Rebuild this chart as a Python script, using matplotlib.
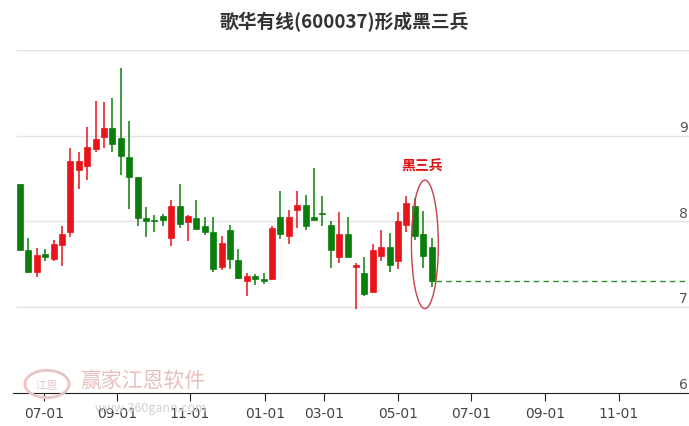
import matplotlib
matplotlib.use("Agg")
import matplotlib.pyplot as plt
from matplotlib.patches import Ellipse, Circle
import numpy as np

plt.rcParams['font.family'] = ['Noto Sans CJK SC', 'DejaVu Sans']

# weekly candles: open, high, low, close
opens = [8.43, 7.66, 7.41, 7.62, 7.56, 7.72, 7.87, 8.60, 8.65, 8.84,
         8.98, 9.09, 8.97, 8.75, 8.52, 8.04, 8.02, 8.06, 7.80, 8.18,
         7.99, 8.04, 7.94, 7.88, 7.47, 7.90, 7.55, 7.30, 7.36, 7.32,
         7.32, 8.05, 7.83, 8.13, 8.19, 8.05, 8.09, 7.96, 7.58, 7.85,
         7.47, 7.40, 7.17, 7.60, 7.70, 7.53, 7.96, 8.18, 7.85, 7.70]
highs = [8.44, 7.81, 7.69, 7.68, 7.78, 7.95, 8.85, 8.81, 9.10, 9.41,
         9.39, 9.44, 9.79, 9.17, 8.52, 8.17, 8.07, 8.09, 8.25, 8.44,
         8.07, 8.25, 8.05, 8.05, 7.83, 7.96, 7.68, 7.40, 7.38, 7.40,
         7.95, 8.35, 8.13, 8.35, 8.31, 8.62, 8.29, 8.00, 8.11, 8.05,
         7.51, 7.58, 7.73, 7.90, 7.86, 8.11, 8.29, 8.27, 8.12, 7.81]
lows = [7.66, 7.39, 7.35, 7.54, 7.54, 7.48, 7.82, 8.38, 8.48, 8.81,
        8.86, 8.81, 8.54, 8.14, 7.95, 7.82, 7.88, 7.94, 7.71, 7.92,
        7.77, 7.91, 7.84, 7.41, 7.43, 7.44, 7.33, 7.13, 7.26, 7.27,
        7.31, 7.79, 7.74, 7.92, 7.90, 8.01, 7.94, 7.45, 7.51, 7.58,
        6.98, 7.13, 7.17, 7.54, 7.41, 7.44, 7.87, 7.78, 7.45, 7.23]
closes = [7.67, 7.41, 7.61, 7.58, 7.74, 7.85, 8.70, 8.70, 8.87, 8.96,
          9.09, 8.90, 8.76, 8.52, 8.04, 8.00, 8.00, 8.01, 8.18, 7.97,
          8.06, 7.91, 7.88, 7.44, 7.75, 7.56, 7.34, 7.36, 7.32, 7.30,
          7.92, 7.85, 8.05, 8.19, 7.94, 8.01, 8.08, 7.67, 7.85, 7.58,
          7.49, 7.15, 7.67, 7.70, 7.49, 8.00, 8.21, 7.83, 7.59, 7.30]

tick_pos = [2.85, 11.54, 20.21, 29.15, 36.23, 45.0, 53.74, 62.48, 71.26]
tick_labels = ["07-01", "09-01", "11-01", "01-01", "03-01",
               "05-01", "07-01", "09-01", "11-01"]
y_labels = [6, 7, 8, 9]
grid_vals = [7, 8, 9, 10]

pattern_idx = [47, 48, 49]   # the three falling weeks
pattern_name = "黑三兵"

RED = "#e8141b"
GREEN = "#0b7d0b"

fig = plt.figure(figsize=(6.89, 4.27), dpi=100)
ax = fig.add_axes([13 / 689, 1 - 393.5 / 427, 1 - 13 / 689, (393.5 - 51) / 427])
ax.set_xlim(-0.83, 79.64)
ax.set_ylim(6, 10)

for g in grid_vals:
    ax.axhline(g, color="#e3e3e3", lw=1, zorder=0, xmin=0.006)

x = np.arange(len(opens))
for i in x:
    o, h, l, c = opens[i], highs[i], lows[i], closes[i]
    col = RED if c >= o else GREEN
    ax.vlines(i, l, h, color=col, lw=1.1, zorder=2)
    ax.bar(i, max(abs(c - o), 0.02), bottom=min(o, c), width=0.7,
           color=col, edgecolor=col, lw=0.5, zorder=3)

# last close extended as a dashed line
ax.hlines(closes[-1], x[-1] + 0.5, 79.64, colors="#2e8b2e", lw=1,
          linestyles=(0, (4, 3)), zorder=2)

# pattern highlight
lo = min(lows[j] for j in pattern_idx)
hi = max(highs[j] for j in pattern_idx)
cx = np.mean(pattern_idx) + 0.2
ax.add_patch(Ellipse((cx, (lo + hi) / 2 - 0.02), 3.2, (hi - lo) + 0.46,
                     fill=False, edgecolor="#c8404a", lw=1, zorder=4))
ax.text(cx - 0.3, hi + 0.3, pattern_name, color="#e01010", fontsize=10,
        fontweight="bold", ha="center", va="bottom")

for s in ["top", "left", "right"]:
    ax.spines[s].set_visible(False)
ax.spines["bottom"].set_color("#222222")
ax.set_yticks([])
ax.set_xticks(tick_pos)
ax.set_xticklabels(tick_labels, family=["Liberation Sans Narrow", "DejaVu Sans"],
                   fontsize=10, color="#444444")
ax.tick_params(axis="x", length=6, color="#222222", pad=4)

for v in y_labels:
    ax.text(0.998, v + 0.02, str(v), transform=ax.get_yaxis_transform(),
            ha="right", va="bottom", fontsize=10, color="#555555",
            family=["Liberation Sans Narrow", "DejaVu Sans"])

fig.text(0.5, 1 - 22 / 427, "歌华有线(600037)形成黑三兵", ha="center", va="center",
         fontsize=13.5, fontweight="bold", color="#333333")

# watermark
fig.patches.append(Circle((47 / 689, 1 - 385 / 427), 0.032, transform=fig.transFigure,
                          fill=False, edgecolor="#e8c4c4", lw=2, zorder=1))
fig.text(47 / 689, 1 - 386 / 427, "江恩", ha="center", va="center", fontsize=8,
         color="#e8c4c4", zorder=1)
fig.text(80 / 689, 1 - 381 / 427, "赢家江恩软件", ha="left", va="center", fontsize=15,
         color="#e6c0c0", zorder=1)
fig.text(95 / 689, 1 - 409 / 427, "www.360gann.com", ha="left", va="center", fontsize=9,
         color="#d0d0d0", zorder=1)

fig.savefig("out.png", dpi=100)
